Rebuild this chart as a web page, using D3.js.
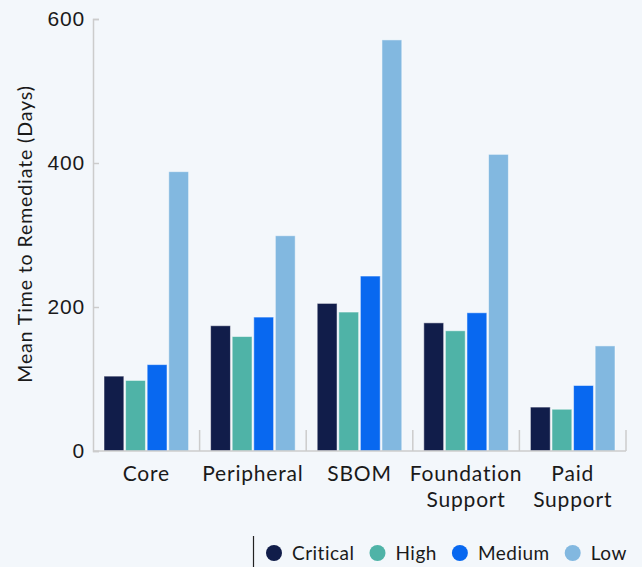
<!DOCTYPE html>
<html>
<head>
<meta charset="utf-8">
<script src="https://cdn.jsdelivr.net/npm/d3@7"></script>
<style>
  html, body { margin: 0; padding: 0; background: #f3f7fb; }
  svg { display: block; font-family: Lato, "Open Sans", sans-serif; }
</style>
</head>
<body>
<svg id="svg0"></svg>
<script>
// data
let categories = [["Core"], ["Peripheral"], ["SBOM"], ["Foundation", "Support"], ["Paid", "Support"]];
let severities = ["Critical", "High", "Medium", "Low"];
let critical = [104, 174, 205, 178, 61];
let high = [98, 159, 193, 167, 58];
let medium = [120, 186, 243, 192, 91];
let low = [388, 299, 571, 412, 146];
let yTicks = [0, 200, 400, 600];
let colors = ["#111d4a", "#4fb3a7", "#0868f0", "#82b8e0"];

let width = 642, height = 567;
let margin = {top: 19, right: 16, bottom: 116, left: 93};
let w = width - margin.left - margin.right;
let h = height - margin.top - margin.bottom;
let axisColor = "#cccccc";
let textColor = "#1a1a1a";

let svg = d3.select('#svg0').attr('width', width).attr('height', height);
svg.append('rect').attr('width', width).attr('height', height).style('fill', '#f3f7fb');

let g = svg.append('g').attr('transform', 'translate(' + margin.left + ',' + margin.top + ')');

let keys = categories.map(c => c.join(' '));
let seriesValues = [critical, high, medium, low];

let x0 = d3.scaleBand().domain(keys).range([0, w]).padding(0);
let x1 = d3.scaleBand().domain(severities).range([11, x0.bandwidth() - 11]).paddingInner(0.08);
let y = d3.scaleLinear().domain([0, 600]).range([h, 0]);
let color = d3.scaleOrdinal().domain(severities).range(colors);

// bars
let groups = g.selectAll('.group').data(keys).enter().append('g')
    .attr('class', 'group')
    .attr('transform', d => 'translate(' + x0(d) + ',0)');

groups.selectAll('rect').data((d, i) => severities.map((s, j) => ({s: s, v: seriesValues[j][i]})))
    .enter().append('rect')
    .attr('x', d => x1(d.s))
    .attr('y', d => y(d.v))
    .attr('width', x1.bandwidth())
    .attr('height', d => h - y(d.v))
    .style('fill', d => color(d.s))
    .style('stroke', '#ffffff').style('stroke-opacity', 0.5).style('stroke-width', 1);

// y axis
let yAxis = g.append('g').call(d3.axisLeft(y).tickValues(yTicks).tickSize(-6).tickPadding(8));
yAxis.select('.domain').attr('stroke', axisColor).attr('stroke-width', 1.5);
yAxis.selectAll('.tick line').attr('stroke', axisColor).attr('stroke-width', 1.5);
yAxis.selectAll('.tick text').style('font-size', '21px').style('letter-spacing', '0.8px').style('fill', textColor);

// x axis line and band separators
g.append('line').attr('x1', 0).attr('x2', w).attr('y1', h).attr('y2', h)
    .attr('stroke', axisColor).attr('stroke-width', 1.5);
g.selectAll('.sep').data(keys).enter().append('line')
    .attr('class', 'sep')
    .attr('x1', d => x0(d) + x0.bandwidth()).attr('x2', d => x0(d) + x0.bandwidth())
    .attr('y1', h).attr('y2', h - 21)
    .attr('stroke', axisColor).attr('stroke-width', 1.5);

// category labels
let labels = g.selectAll('.cat').data(categories).enter().append('text')
    .attr('class', 'cat')
    .attr('x', (d, i) => x0(keys[i]) + x0.bandwidth() / 2)
    .attr('y', h + 30)
    .style('text-anchor', 'middle').style('font-size', '21px').style('letter-spacing', '0.8px')
    .style('fill', textColor);
labels.selectAll('tspan').data(d => d).enter().append('tspan')
    .attr('x', function() { return this.parentNode.getAttribute('x'); })
    .attr('dy', (d, i) => i === 0 ? 0 : 25.5)
    .text(d => d);

// y title
svg.append('text')
    .attr('transform', 'translate(32,' + 234 + ') rotate(-90)')
    .style('text-anchor', 'middle').style('font-size', '19.5px').style('letter-spacing', '0.9px')
    .style('fill', textColor)
    .text('Mean Time to Remediate (Days)');

// legend
let legend = svg.append('g').attr('transform', 'translate(0,553)');
svg.append('line').attr('x1', 253.5).attr('x2', 253.5).attr('y1', 536).attr('y2', 567)
    .attr('stroke', '#222').attr('stroke-width', 1.2);
let lx = 274;
severities.forEach(s => {
    legend.append('circle').attr('cx', lx).attr('cy', 0).attr('r', 8).style('fill', color(s));
    let t = legend.append('text').attr('x', lx + 18).attr('y', 0).attr('dy', '0.35em')
        .style('font-size', '19px').style('letter-spacing', '0.5px').style('fill', textColor).text(s);
    lx += 18 + t.node().getComputedTextLength() + 23;
});
</script>
</body>
</html>
